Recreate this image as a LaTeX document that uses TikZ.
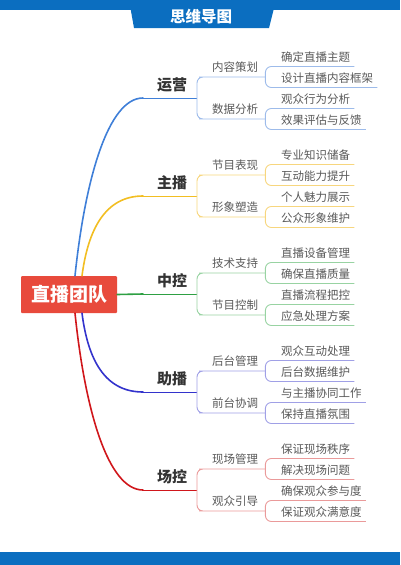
\documentclass[tikz,border=0pt]{standalone}
\usepackage{fontspec}
\setmainfont{Noto Sans CJK SC}
\definecolor{band}{HTML}{0B6EC0}
\definecolor{rootred}{HTML}{E84A3C}
\definecolor{cYY}{HTML}{3F7FD8}\definecolor{cYYl}{HTML}{9DBBEA}
\definecolor{cZB}{HTML}{F2BE22}\definecolor{cZBl}{HTML}{F7D67E}
\definecolor{cZK}{HTML}{2EA043}\definecolor{cZKl}{HTML}{98D3A2}
\definecolor{cZH}{HTML}{3333CC}\definecolor{cZHl}{HTML}{A0A0E6}
\definecolor{cCK}{HTML}{D0161B}\definecolor{cCKl}{HTML}{EA9A9A}
\begin{document}
\begin{tikzpicture}[x=1pt,y=-1pt,
  main/.style={anchor=south,inner ysep=7pt,text depth=0pt,text=black!80,
    font=\fontsize{15}{18}\selectfont\bfseries},
  sub/.style={anchor=south west,inner xsep=7pt,inner ysep=5pt,text depth=0pt,
    text=black!65,font=\fontsize{11.5}{14}\selectfont},
  leaf/.style={anchor=south west,inner xsep=4pt,inner ysep=5pt,text depth=0pt,
    text=black!65,font=\fontsize{11.5}{14}\selectfont},
  trunk/.style={line width=1.6pt,line cap=round},
  twig/.style={line width=0.9pt,rounded corners=6}]
  \useasboundingbox (0,0) rectangle (400,565);
  \fill[band] (0,0) rectangle (400,10);
  \fill[band] (129,0) -- (276,0) -- (269,28) -- (134,28) -- cycle;
  \fill[band] (0,552) rectangle (400,565);
  \node[text=white,font=\fontsize{15.5}{18}\selectfont\bfseries] (title) at (201,17) {思维导图};
  \node[fill=rootred,rounded corners=1pt,minimum width=96pt,minimum height=37pt,
    text=white,font=\fontsize{19}{22}\selectfont\bfseries] (root) at (69,294.5) {直播团队};

  \node[main] (yy) at (172,98) {运营};
  \coordinate (yyL) at (143,98);
  \coordinate (yyR) at (197,98);
  \node[sub] (yy1) at (205,77) {内容策划};
  \node[sub] (yy2) at (205,119) {数据分析};
  \node[leaf] (yy11) at (277,66.5) {确定直播主题};
  \node[leaf] (yy12) at (277,87.5) {设计直播内容框架};
  \node[leaf] (yy21) at (277,108.5) {观众行为分析};
  \node[leaf] (yy22) at (277,129.5) {效果评估与反馈};

  \node[main] (zb) at (172,196) {主播};
  \coordinate (zbL) at (143,196);
  \coordinate (zbR) at (197,196);
  \node[sub] (zb1) at (205,175) {节目表现};
  \node[sub] (zb2) at (205,217) {形象塑造};
  \node[leaf] (zb11) at (277,164.5) {专业知识储备};
  \node[leaf] (zb12) at (277,185.5) {互动能力提升};
  \node[leaf] (zb21) at (277,206.5) {个人魅力展示};
  \node[leaf] (zb22) at (277,227.5) {公众形象维护};

  \node[main] (zk) at (172,294) {中控};
  \coordinate (zkL) at (143,294);
  \coordinate (zkR) at (197,294);
  \node[sub] (zk1) at (205,273) {技术支持};
  \node[sub] (zk2) at (205,315) {节目控制};
  \node[leaf] (zk11) at (277,262.5) {直播设备管理};
  \node[leaf] (zk12) at (277,283.5) {确保直播质量};
  \node[leaf] (zk21) at (277,304.5) {直播流程把控};
  \node[leaf] (zk22) at (277,325.5) {应急处理方案};

  \node[main] (zh) at (172,392) {助播};
  \coordinate (zhL) at (143,392);
  \coordinate (zhR) at (197,392);
  \node[sub] (zh1) at (205,371) {后台管理};
  \node[sub] (zh2) at (205,413) {前台协调};
  \node[leaf] (zh11) at (277,360.5) {观众互动处理};
  \node[leaf] (zh12) at (277,381.5) {后台数据维护};
  \node[leaf] (zh21) at (277,402.5) {与主播协同工作};
  \node[leaf] (zh22) at (277,423.5) {保持直播氛围};

  \node[main] (ck) at (172,490) {场控};
  \coordinate (ckL) at (143,490);
  \coordinate (ckR) at (197,490);
  \node[sub] (ck1) at (205,469) {现场管理};
  \node[sub] (ck2) at (205,511) {观众引导};
  \node[leaf] (ck11) at (277,458.5) {保证现场秩序};
  \node[leaf] (ck12) at (277,479.5) {解决现场问题};
  \node[leaf] (ck21) at (277,500.5) {确保观众参与度};
  \node[leaf] (ck22) at (277,521.5) {保证观众满意度};

  % trunks
  \draw[trunk,cYY] ([xshift=6pt]root.north) .. controls (85,180) and (108,98) .. (yyL);
  \draw[trunk,cZB] ([xshift=13pt]root.north) .. controls (88,230) and (105,196) .. (zbL);
  \draw[trunk,cZK] (root.east) -- (zkL);
  \draw[trunk,cZH] ([xshift=13pt]root.south) .. controls (88,360) and (105,392) .. (zhL);
  \draw[trunk,cCK] ([xshift=6pt]root.south) .. controls (85,410) and (108,490) .. (ckL);
  \draw[line width=0.9pt,cYY] (yyL) -- (yyR);
  \draw[line width=0.9pt,cZB] (zbL) -- (zbR);
  \draw[line width=0.9pt,cZK] (zkL) -- (zkR);
  \draw[line width=0.9pt,cZH] (zhL) -- (zhR);
  \draw[line width=0.9pt,cCK] (ckL) -- (ckR);

  % branches
  \begin{scope}[twig,cYYl]
    \draw (yyR) |- (yy1.south west) -- (yy1.south east);
    \draw (yyR) |- (yy2.south west) -- (yy2.south east);
    \draw (yy1.south east) |- (yy11.south west) -- (yy11.south east);
    \draw (yy1.south east) |- (yy12.south west) -- (yy12.south east);
    \draw (yy2.south east) |- (yy21.south west) -- (yy21.south east);
    \draw (yy2.south east) |- (yy22.south west) -- (yy22.south east);
  \end{scope}
  \begin{scope}[twig,cZBl]
    \draw (zbR) |- (zb1.south west) -- (zb1.south east);
    \draw (zbR) |- (zb2.south west) -- (zb2.south east);
    \draw (zb1.south east) |- (zb11.south west) -- (zb11.south east);
    \draw (zb1.south east) |- (zb12.south west) -- (zb12.south east);
    \draw (zb2.south east) |- (zb21.south west) -- (zb21.south east);
    \draw (zb2.south east) |- (zb22.south west) -- (zb22.south east);
  \end{scope}
  \begin{scope}[twig,cZKl]
    \draw (zkR) |- (zk1.south west) -- (zk1.south east);
    \draw (zkR) |- (zk2.south west) -- (zk2.south east);
    \draw (zk1.south east) |- (zk11.south west) -- (zk11.south east);
    \draw (zk1.south east) |- (zk12.south west) -- (zk12.south east);
    \draw (zk2.south east) |- (zk21.south west) -- (zk21.south east);
    \draw (zk2.south east) |- (zk22.south west) -- (zk22.south east);
  \end{scope}
  \begin{scope}[twig,cZHl]
    \draw (zhR) |- (zh1.south west) -- (zh1.south east);
    \draw (zhR) |- (zh2.south west) -- (zh2.south east);
    \draw (zh1.south east) |- (zh11.south west) -- (zh11.south east);
    \draw (zh1.south east) |- (zh12.south west) -- (zh12.south east);
    \draw (zh2.south east) |- (zh21.south west) -- (zh21.south east);
    \draw (zh2.south east) |- (zh22.south west) -- (zh22.south east);
  \end{scope}
  \begin{scope}[twig,cCKl]
    \draw (ckR) |- (ck1.south west) -- (ck1.south east);
    \draw (ckR) |- (ck2.south west) -- (ck2.south east);
    \draw (ck1.south east) |- (ck11.south west) -- (ck11.south east);
    \draw (ck1.south east) |- (ck12.south west) -- (ck12.south east);
    \draw (ck2.south east) |- (ck21.south west) -- (ck21.south east);
    \draw (ck2.south east) |- (ck22.south west) -- (ck22.south east);
  \end{scope}
\end{tikzpicture}
\end{document}
